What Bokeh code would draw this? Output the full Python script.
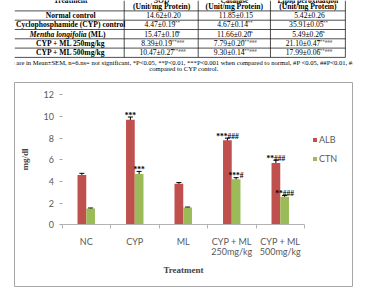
from bokeh.plotting import figure
from bokeh.models import (Range1d, FixedTicker, ColumnDataSource, Whisker, TeeHead,
                          Legend, LegendItem)
from bokeh.layouts import column
from bokeh.core.properties import value
from bokeh.embed import file_html
from bokeh.resources import INLINE

# ---------------- table data ----------------
groups = ["Normal control", "Cyclophosphamide (CYP) control", "Mentha longifolia (ML)",
          "CYP + ML 250mg/kg", "CYP + ML 500mg/kg"]
headers = ["Treatment", "SOD", "Catalase", "Lipid peroxidation"]
unit_label = "(Unit/mg Protein)"
sod_vals = ["14.62\u00b10.20", "4.47\u00b10.19", "15.47\u00b10.10", "8.39\u00b10.19", "10.47\u00b10.27"]
sod_sig = ["", "***", "ns", "***###", "***###"]
cat_vals = ["11.85\u00b10.15", "4.67\u00b10.14", "11.66\u00b10.20", "7.79\u00b10.20", "9.30\u00b10.14"]
cat_sig = ["", "***", "ns", "***###", "***###"]
lpo_vals = ["5.42\u00b10.26", "35.91\u00b10.05", "5.49\u00b10.26", "21.10\u00b10.47", "17.99\u00b10.06"]
lpo_sig = ["", "***", "ns", "***###", "***###"]
note_1 = ("Values are in Mean\u00b1SEM, n=6.ns= not significant, *P<0.05, **P<0.01, ***P<0.001 "
          "when compared to normal, #P <0.05, ##P<0.01, ###P<0.001 when")
note_2 = "compared to CYP control."

# ---------------- chart data ----------------
categories = ["NC", "CYP", "ML", "CYP + ML\n250mg/kg", "CYP + ML\n500mg/kg"]
alb = [4.6, 9.7, 3.8, 7.8, 5.7]
alb_err = [0.15, 0.25, 0.1, 0.2, 0.26]
ctn = [1.5, 4.7, 1.6, 4.2, 2.6]
ctn_err = [0.05, 0.23, 0.04, 0.15, 0.1]
alb_marks = ["", "***", "", "***###", "**###"]
ctn_marks = ["", "***", "", "***#", "**###"]
y_ticks = [0, 2, 4, 6, 8, 10, 12]

SERIF = "Times New Roman"
SANS = "Lato"
GREY_TXT = "#595959"

# ---------------- table figure ----------------
TW, TH = 379, 81
tbl = figure(width=TW, height=TH, x_range=Range1d(0, TW), y_range=Range1d(TH, 0),
             output_backend="svg", toolbar_location=None, min_border=0,
             x_axis_location=None, y_axis_location=None)
tbl.grid.visible = False
tbl.outline_line_color = None

col_edges = [123, 206, 287, 371]
col_centers = [63, 165, 246.5, 329]
row_y = [15.0, 24.3, 33.6, 42.9, 52.2]
row_lines = [10.4, 19.7, 29.0, 38.3, 47.6, 56.9]
FS = 7.6   # table font size, px
SFS = 5.0  # superscript font size, px

tbl.segment(x0=[0] * len(row_lines), x1=[col_edges[-1]] * len(row_lines),
            y0=row_lines, y1=row_lines, line_color="#222222", line_width=0.8)
tbl.segment(x0=col_edges, x1=col_edges, y0=[0] * len(col_edges),
            y1=[row_lines[-1]] * len(col_edges), line_color="#222222", line_width=0.8)

def bold(**kw):
    return dict(text_font=value(SERIF), text_font_style="bold", text_color="black", **kw)

# header: its first line runs past the upper edge
tbl.text(x=col_centers, y=[0.0] * 4, text=headers, text_align="center",
         text_baseline="alphabetic", text_font_size=f"{FS}px", **bold())
tbl.text(x=col_centers[1:], y=[5.8] * 3, text=[unit_label] * 3, text_align="center",
         text_baseline="middle", text_font_size=f"{FS}px", **bold())

plain_groups = [g for g in groups if not g.startswith("Mentha")]
plain_y = [row_y[i] for i, g in enumerate(groups) if not g.startswith("Mentha")]
tbl.text(x=[col_centers[0]] * len(plain_groups), y=plain_y, text=plain_groups,
         text_align="center", text_baseline="middle", text_font_size=f"{FS}px", **bold())

# "Mentha longifolia" in italics, then "(ML)" upright
ml_italic, ml_rest = "Mentha longifolia", "(ML)"
w_it = 7.224 * FS
w_rest = 2.277 * FS
gap = 2.0
x_split = col_centers[0] - (w_it + gap + w_rest) / 2 + w_it
tbl.text(x=[x_split], y=[row_y[2]], text=[ml_italic], text_align="right", text_baseline="middle",
         text_font=value(SERIF), text_font_style="bold italic", text_font_size=f"{FS}px",
         text_color="black")
tbl.text(x=[x_split + gap], y=[row_y[2]], text=[ml_rest], text_align="left",
         text_baseline="middle", text_font_size=f"{FS}px", **bold())

# approximate advance widths of Times glyphs (em)
ADV = {".": 0.25, "\u00b1": 0.564, "*": 0.5, "#": 0.5, "n": 0.5, "s": 0.389}

def text_width(s, size):
    return sum(ADV.get(c, 0.5) for c in s) * size

vx, vy, vt, sx, sy, st = [], [], [], [], [], []
for c, (vals, sigs) in enumerate([(sod_vals, sod_sig), (cat_vals, cat_sig), (lpo_vals, lpo_sig)]):
    cx = col_centers[c + 1]
    for r, (v, s) in enumerate(zip(vals, sigs)):
        wm = text_width(v, FS)
        ws = text_width(s, SFS)
        x0 = cx - (wm + ws) / 2
        vx.append(x0); vy.append(row_y[r]); vt.append(v)
        if s:
            sx.append(x0 + wm + 0.5); sy.append(row_y[r] - 2.4); st.append(s)
tbl.text(x=vx, y=vy, text=vt, text_align="left", text_baseline="middle",
         text_font=value(SERIF), text_font_size=f"{FS}px", text_color="black")
tbl.text(x=sx, y=sy, text=st, text_align="left", text_baseline="middle",
         text_font=value(SERIF), text_font_size=f"{SFS}px", text_color="black")

tbl.text(x=[-19.5], y=[61.6], text=[note_1], text_align="left", text_baseline="middle",
         text_font=value(SERIF), text_font_size="6.6px", text_color="black")
tbl.text(x=[190], y=[68.4], text=[note_2], text_align="center", text_baseline="middle",
         text_font=value(SERIF), text_font_size="6.6px", text_color="black")

# ---------------- bar chart ----------------
# The frame is the whole chart area (its outline is the chart border); the axes are
# pinned inside it with fixed_location.
CW, CH = 379, 211
F_LEFT, F_RIGHT, F_TOP, F_BOTTOM = 14, 352, 1, 205      # frame edges, px in this figure
PX_PER_CAT = 48.5                                       # width of one category, px
PX_PER_UNIT = 10.833                                    # px per mg/dl
CAT_X0 = 47.5                                           # first category edge from frame left
ZERO_Y = 142.3                                          # value 0 from frame top
fw, fh = F_RIGHT - F_LEFT, F_BOTTOM - F_TOP
x_start = -0.5 - CAT_X0 / PX_PER_CAT
y_end = ZERO_Y / PX_PER_UNIT
y_start = y_end - fh / PX_PER_UNIT

p = figure(width=CW, height=CH,
           x_range=Range1d(x_start, x_start + fw / PX_PER_CAT),
           y_range=Range1d(y_start, y_end),
           output_backend="svg", toolbar_location=None,
           min_border_left=F_LEFT, min_border_right=CW - F_RIGHT,
           min_border_top=F_TOP, min_border_bottom=CH - F_BOTTOM)
p.grid.visible = False
p.outline_line_color = "#a6a6a6"
p.outline_line_width = 1

idx = list(range(len(categories)))
half = 0.09
src = ColumnDataSource(dict(
    xa=[i - half for i in idx], xc=[i + half for i in idx],
    alb=alb, ctn=ctn,
    alb_hi=[a + e for a, e in zip(alb, alb_err)], alb_lo=[a - e for a, e in zip(alb, alb_err)],
    ctn_hi=[c + e for c, e in zip(ctn, ctn_err)], ctn_lo=[c - e for c, e in zip(ctn, ctn_err)],
    alb_marks=alb_marks, ctn_marks=ctn_marks,
))
r_alb = p.vbar(x="xa", top="alb", width=0.18, source=src, fill_color="#c0504d", line_color=None)
r_ctn = p.vbar(x="xc", top="ctn", width=0.18, source=src, fill_color="#9bbb59", line_color=None)
for base, up, lo in [("xa", "alb_hi", "alb_lo"), ("xc", "ctn_hi", "ctn_lo")]:
    p.add_layout(Whisker(base=base, upper=up, lower=lo, source=src, line_color="black",
                         upper_head=TeeHead(size=5, line_color="black"),
                         lower_head=TeeHead(size=5, line_color="black")))
for base, top, marks in [("xa", "alb_hi", "alb_marks"), ("xc", "ctn_hi", "ctn_marks")]:
    p.text(x=base, y=top, text=marks, source=src, text_align="center", text_baseline="bottom",
           y_offset=2.5, text_font=value(SERIF), text_font_style="bold",
           text_font_size="7.5px", text_color="black")

ya = p.yaxis[0]
ya.fixed_location = -0.5
ya.bounds = (0, 12)
ya.ticker = FixedTicker(ticks=y_ticks)
ya.axis_line_color = None
ya.major_tick_line_color = "#a6a6a6"
ya.major_tick_out = 3
ya.major_tick_in = 0
ya.minor_tick_line_color = None
ya.major_label_text_font = SANS
ya.major_label_text_font_size = "9px"
ya.major_label_text_color = GREY_TXT
ya.major_label_standoff = 5
ya.axis_label = "mg/dl"
ya.axis_label_text_font = SERIF
ya.axis_label_text_font_style = "bold"
ya.axis_label_text_font_size = "9px"
ya.axis_label_standoff = 11

xa = p.xaxis[0]
xa.fixed_location = 0
xa.bounds = (-0.5, 4.5)
xa.ticker = FixedTicker(ticks=idx, minor_ticks=[i - 0.5 for i in idx] + [idx[-1] + 0.5])
xa.major_label_overrides = {i: c for i, c in zip(idx, categories)}
xa.axis_line_color = "#b3b3b3"
xa.major_tick_line_color = None
xa.minor_tick_line_color = "#b3b3b3"
xa.minor_tick_out = 4
xa.minor_tick_in = 0
xa.major_label_text_font = SANS
xa.major_label_text_font_size = "9px"
xa.major_label_text_color = GREY_TXT
xa.major_label_text_line_height = 0.9
xa.major_label_standoff = 5
xa.axis_label = "Treatment"
xa.axis_label_text_font = SERIF
xa.axis_label_text_font_style = "bold"
xa.axis_label_text_font_size = "9px"
xa.axis_label_standoff = 6

legend = Legend(items=[LegendItem(label="ALB", renderers=[r_alb]),
                       LegendItem(label="CTN", renderers=[r_ctn])],
                location=(298, 122), orientation="vertical",
                glyph_width=5, glyph_height=5, label_height=9, label_standoff=2, spacing=8,
                padding=0, margin=0, border_line_color=None, background_fill_alpha=0,
                label_text_font=SANS, label_text_font_size="9px", label_text_color=GREY_TXT)
p.add_layout(legend, "center")

page = column(tbl, p, spacing=0)
open("out.html", "w").write(file_html(page, INLINE))
